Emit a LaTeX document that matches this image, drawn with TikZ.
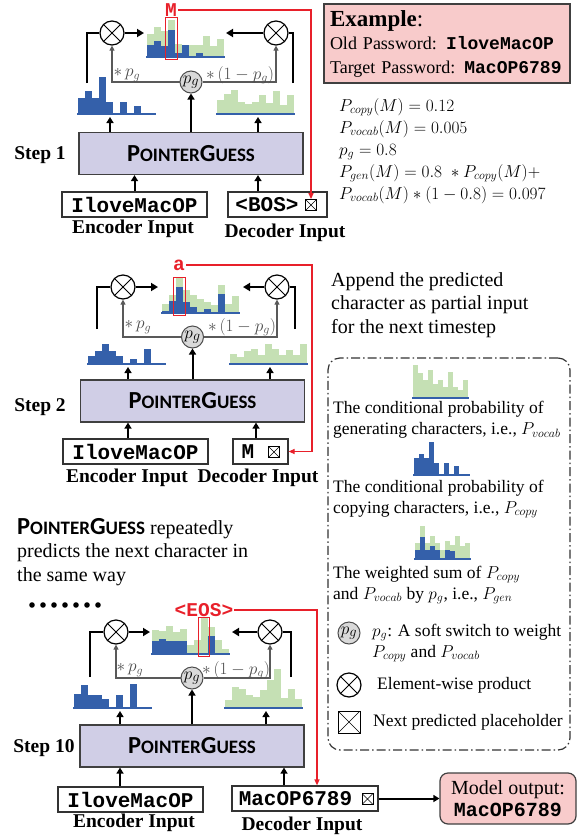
\documentclass[tikz,border=0pt]{standalone}
\usepackage{fontspec}
\setmainfont{Liberation Serif}
\setmonofont{Liberation Mono}
\newfontfamily\pgfont{Carlito}
\usetikzlibrary{arrows.meta,positioning}

\definecolor{copyblue}{RGB}{52,96,170}
\definecolor{vocabgreen}{RGB}{197,224,180}
\definecolor{pglav}{RGB}{208,206,230}
\definecolor{expink}{RGB}{248,203,203}
\definecolor{predred}{RGB}{232,32,42}

\newcommand{\PG}{{\pgfont\bfseries\fontsize{24.5}{26}\selectfont P\fontsize{19}{26}\selectfont OINTER\fontsize{24.5}{26}\selectfont G\fontsize{19}{26}\selectfont UESS}}

% histogram: left x, baseline y, bar width, green/blue heights
\newcommand{\bars}[4]{%
  \foreach \hv/\hc [count=\i from 0] in {#4} {
    \fill[vocabgreen] (#1+\i*#3,#2) rectangle ++(#3,-\hv);
    \fill[copyblue] (#1+\i*#3,#2) rectangle ++(#3,-\hc);
  }
  \draw[copyblue, line width=1.6pt] (#1-1,#2+0.8) -- ++(11*#3+2,0);
}

\tikzset{
  pgbox/.style={draw=black!75, fill=pglav, line width=1.2pt, minimum width=224pt, minimum height=42pt, inner sep=0pt},
  inbox/.style={draw=black!80, line width=1.2pt, minimum height=25pt, inner sep=0pt, font=\fontsize{21}{21}\selectfont\ttfamily\bfseries},
  prodnode/.style={circle, draw, line width=1.2pt, minimum size=24pt, inner sep=0pt, fill=white,
    path picture={\draw[line width=1pt] (path picture bounding box.south west) -- (path picture bounding box.north east)
      (path picture bounding box.north west) -- (path picture bounding box.south east);}},
  gatenode/.style={circle, draw=black!70, fill=black!15, line width=1pt, minimum size=22pt, inner sep=0pt, font=\fontsize{19}{19}\selectfont},
  holdnode/.style={draw, line width=0.8pt, minimum size=11pt, inner sep=0pt,
    path picture={\draw[line width=0.6pt] (path picture bounding box.south west) -- (path picture bounding box.north east)
      (path picture bounding box.north west) -- (path picture bounding box.south east);}},
  steplab/.style={font=\fontsize{19.5}{20}\selectfont\bfseries},
  inlab/.style={font=\fontsize{19.5}{20}\selectfont\bfseries},
  wlab/.style={text=black!70, font=\fontsize{16.5}{16}\selectfont, inner sep=0pt},
  predlab/.style={text=predred, font=\fontsize{19.5}{20}\selectfont\ttfamily\bfseries, inner sep=1pt},
  pickbox/.style={draw=predred, line width=1pt, inner sep=0pt},
  notetext/.style={align=left, inner sep=0pt, anchor=west, font=\fontsize{20}{23.5}\selectfont},
  keytext/.style={align=left, inner sep=0pt, anchor=west, font=\fontsize{17.5}{21}\selectfont},
  keybox/.style={draw=black!80, line width=1.2pt, rounded corners=12pt, dash pattern=on 9pt off 3pt on 1.5pt off 3pt,
    minimum width=242pt, minimum height=392pt},
  exbox/.style={draw=black!75, fill=expink, line width=1.2pt, text width=234pt, inner sep=6pt, minimum height=73pt,
    align=left, font=\fontsize{18}{23.5}\selectfont},
  outbox/.style={draw=black!75, fill=expink, line width=1.2pt, rounded corners=8pt, minimum width=136pt, minimum height=51pt,
    align=center, font=\fontsize{20}{22}\selectfont},
  feedback/.style={draw=predred, line width=1.2pt, -{Triangle[length=6pt,width=5pt]}},
  flowarrow/.style={line width=2.6pt, -{Triangle[length=7pt,width=8pt]}},
  liftarrow/.style={line width=2pt, -{Triangle[length=6pt,width=7pt]}},
  sideline/.style={line width=2.6pt},
  mixarrow/.style={draw=black!65, line width=1.1pt, -{Triangle[length=5pt,width=5pt]}},
}

\begin{document}
\begin{tikzpicture}[x=1pt,y=-1pt]
	\useasboundingbox (0,0) rectangle (577,836);

	% step 1
	\draw (191,153.5) node [pgbox] (box1) {\PG};
	\draw (40,155) node [steplab] (step1) {Step 1};
	\draw (134.5,204.5) node [inbox, minimum width=145pt] (enc1) {IloveMacOP};
	\draw (277.5,204.5) node [inbox, minimum width=99pt] (dec1) {<BOS>\rule{21pt}{0pt}};
	\draw (311,205) node [holdnode] (ph1) {};
	\draw (133,229) node [inlab] (enclab1) {Encoder Input};
	\draw (285,233) node [inlab] (declab1) {Decoder Input};
	\draw (112,33) node [prodnode] (ml1) {};
	\draw (276,33) node [prodnode] (mr1) {};
	\draw (191,82) node [gatenode] (s1) {$p_g$};
	\bars{78}{113}{7}{0/15,0/22,0/15,0/36,0/11,0/0,0/11,0/0,0/7,0/0,0/0}
	\bars{217}{113}{7}{13/0,19/0,23/0,11/0,9/0,11/0,18/0,10/0,22/0,8/0,18/0}
	\bars{147}{56}{7}{22/11,29/15,25/10,36/26,12/3,11/11,11/0,11/3,20/0,10/0,17/0}
	\draw (171,10) node [predlab] (out1) {M};
	\draw (171,38) node [pickbox, minimum width=12pt, minimum height=42pt] (sel1) {};
	\coordinate (cpyT1) at (87,83);
	\coordinate (vocT1) at (293,83);
	\coordinate (mixL1) at (144,33);
	\coordinate (mixR1) at (226,33);
	\coordinate (cpyB1) at (110,117);
	\coordinate (vocB1) at (258,117);
	\coordinate (din1) at ([xshift=-19.5pt]dec1.north);
	\draw
		(ml1) edge [flowarrow] (mixL1)
		(mr1) edge [flowarrow] (mixR1)
		(box1.north -| cpyB1) edge [liftarrow] (cpyB1)
		(box1.north -| vocB1) edge [liftarrow] (vocB1)
		(box1) edge [liftarrow] (s1)
		(enc1) edge [liftarrow] (enc1 |- box1.south)
		(din1) edge [liftarrow] (din1 |- box1.south)
	;
	\draw[sideline] (cpyT1) |- (ml1);
	\draw[sideline] (vocT1) |- (mr1);
	\draw[mixarrow] (s1) -| (ml1);
	\draw[mixarrow] (s1) -| (mr1);
	\draw (127,75) node [wlab] (wl1) {$*\,p_g$};
	\draw (240,75) node [wlab] (wr1) {$*\,(1-p_g)$};
	\draw[feedback] (out1) -| (ph1);

	% step 2
	\draw (192.5,401) node [pgbox] (box2) {\PG};
	\draw (40,407) node [steplab] (step2) {Step 2};
	\draw (135.5,451.5) node [inbox, minimum width=145pt] (enc2) {IloveMacOP};
	\draw (260.5,451.5) node [inbox, minimum width=55pt] (dec2) {M\rule{25pt}{0pt}};
	\draw (274,452) node [holdnode] (ph2) {};
	\draw (127,478) node [inlab] (enclab2) {Encoder Input};
	\draw (258,478) node [inlab] (declab2) {Decoder Input};
	\draw (123,287) node [prodnode] (ml2) {};
	\draw (277,287) node [prodnode] (mr2) {};
	\draw (192.5,337) node [gatenode] (s2) {$p_g$};
	\bars{88}{363}{7}{0/7,0/12,0/19,0/12,0/7,0/0,0/4,0/0,0/14,0/0,0/0}
	\bars{230}{363}{7}{9/0,6/0,12/0,14/0,8/0,19/0,14/0,8/0,13/0,8/0,19/0}
	\bars{162}{312}{7}{8/1,17/11,34/25,22/10,17/5,13/0,10/3,7/0,27/18,8/0,16/0}
	\draw (179,265) node [predlab] (out2) {a};
	\draw (179.5,296) node [pickbox, minimum width=12pt, minimum height=38pt] (sel2) {};
	\coordinate (cpyT2) at (97,329);
	\coordinate (vocT2) at (295,329);
	\coordinate (mixL2) at (158,287);
	\coordinate (mixR2) at (243,287);
	\coordinate (cpyB2) at (128,367);
	\coordinate (vocB2) at (270,367);
	\coordinate (ein2) at ([xshift=-7.5pt]enc2.north);
	\coordinate (din2) at ([xshift=-4.5pt]dec2.north);
	\coordinate (turn2) at (312,451.5);
	\draw
		(ml2) edge [flowarrow] (mixL2)
		(mr2) edge [flowarrow] (mixR2)
		(box2.north -| cpyB2) edge [liftarrow] (cpyB2)
		(box2.north -| vocB2) edge [liftarrow] (vocB2)
		(box2) edge [liftarrow] (s2)
		(ein2) edge [liftarrow] (ein2 |- box2.south)
		(din2) edge [liftarrow] (din2 |- box2.south)
	;
	\draw[sideline] (cpyT2) |- (ml2);
	\draw[sideline] (vocT2) |- (mr2);
	\draw[mixarrow] (s2) -| (ml2);
	\draw[mixarrow] (s2) -| (mr2);
	\draw (138,327) node [wlab] (wl2) {$*\,p_g$};
	\draw (242,327) node [wlab] (wr2) {$*\,(1-p_g)$};
	\draw[feedback] (out2) -| (turn2) -- (dec2.east);

	% step 10
	\draw (192,746) node [pgbox] (box10) {\PG};
	\draw (44,748) node [steplab] (step10) {Step 10};
	\draw (130.5,799.5) node [inbox, minimum width=145pt] (enc10) {IloveMacOP};
	\draw (305,798.5) node [inbox, minimum width=146pt] (dec10) {MacOP6789\rule{19pt}{0pt}};
	\draw (367.5,799) node [holdnode] (ph10) {};
	\draw (508,798.5) node [outbox] (res) {Model output:\\\textbf{\texttt{MacOP6789}}};
	\draw (134,823) node [inlab] (enclab10) {Encoder Input};
	\draw (302,826) node [inlab] (declab10) {Decoder Input};
	\draw (116,632) node [prodnode] (ml10) {};
	\draw (270,632) node [prodnode] (mr10) {};
	\draw (192,678) node [gatenode] (s10) {$p_g$};
	\bars{74}{707}{7}{0/13,0/22,0/12,0/12,0/8,0/0,0/12,0/0,0/23,0/0,0/0}
	\bars{225}{707}{7}{7/0,20/0,18/0,12/0,10/0,17/0,27/0,38/0,9/0,18/0,8/0}
	\bars{152}{653}{7}{23/12,22/14,27/12,21/12,24/12,8/0,13/0,35/0,26/17,13/0,4/0}
	\draw (204,610) node [predlab] (out10) {<EOS>};
	\draw (203.5,636.5) node [pickbox, minimum width=11pt, minimum height=39pt] (sel10) {};
	\foreach \k in {0,...,6} \fill (32+\k*11,605) circle (2.8pt);
	\coordinate (cpyT10) at (90,677);
	\coordinate (vocT10) at (291,677);
	\coordinate (mixL10) at (150,632);
	\coordinate (mixR10) at (232,632);
	\coordinate (cpyB10) at (120,711);
	\coordinate (vocB10) at (266,711);
	\coordinate (ein10) at ([xshift=-10.5pt]enc10.north);
	\coordinate (din10) at ([xshift=-21pt]dec10.north);
	\coordinate (fin10) at ([xshift=12pt]dec10.north);
	\draw
		(ml10) edge [flowarrow] (mixL10)
		(mr10) edge [flowarrow] (mixR10)
		(box10.north -| cpyB10) edge [liftarrow] (cpyB10)
		(box10.north -| vocB10) edge [liftarrow] (vocB10)
		(box10) edge [liftarrow] (s10)
		(ein10) edge [liftarrow] (ein10 |- box10.south)
		(din10) edge [liftarrow] (din10 |- box10.south)
		(dec10) edge [liftarrow] (res)
	;
	\draw[sideline] (cpyT10) |- (ml10);
	\draw[sideline] (vocT10) |- (mr10);
	\draw[mixarrow] (s10) -| (ml10);
	\draw[mixarrow] (s10) -| (mr10);
	\draw (130,670) node [wlab] (wl10) {$*\,p_g$};
	\draw (236,670) node [wlab] (wr10) {$*\,(1-p_g)$};
	\draw[feedback] (out10) -| (fin10);

	% example and notes
	\draw (447,43.5) node [exbox] (ex) {{\fontsize{23}{23}\selectfont\textbf{Example}:}\\Old Password: \textbf{\texttt{IloveMacOP}}\\Target Password: \textbf{\texttt{MacOP6789}}};
	\draw (339,151) node [keytext, font=\fontsize{18}{22}\selectfont] (calc) {$P_{copy}(M)=0.12$\\$P_{vocab}(M)=0.005$\\$p_g=0.8$\\$P_{gen}(M)=0.8\;*P_{copy}(M)+$\\$P_{vocab}(M)*(1-0.8)=0.097$};
	\draw (331,305) node [notetext] (append) {Append the predicted\\character as partial input\\for the next timestep};
	\draw (17,552) node [notetext] (repeat) {\PG{} repeatedly\\predicts the next character in\\the same way};

	% legend
	\draw (449,554) node [keybox] (key) {};
	\bars{413}{397}{5}{32/0,24/0,17/0,27/0,13/0,17/0,10/0,25/0,10/0,7/0,17/0}
	\draw (333,420) node [keytext] (kv) {The conditional probability of\\generating characters, i.e., $P_{vocab}$};
	\bars{414}{474}{5}{0/16,0/20,0/16,0/32,0/11,0/0,0/11,0/0,0/8,0/0,0/0}
	\draw (333,499) node [keytext] (kc) {The conditional probability of\\copying characters, i.e., $P_{copy}$};
	\bars{415}{558}{5}{15/8,32/21,15/8,22/12,15/8,8/0,17/8,13/7,22/0,12/0,15/0}
	\draw (333,585) node [keytext] (kg) {The weighted sum of $P_{copy}$\\and $P_{vocab}$ by $p_g$, i.e., $P_{gen}$};
	\draw (349,633) node [gatenode] (ks) {$p_g$};
	\draw (372,643) node [keytext] (ksl) {$p_g$: A soft switch to weight\\$P_{copy}$ and $P_{vocab}$};
	\draw (349,685) node [prodnode] (kp) {};
	\draw (377,685) node [keytext] (kpl) {Element-wise product};
	\draw (349,722) node [holdnode, minimum size=22pt] (kh) {};
	\draw (373,722) node [keytext] (khl) {Next predicted placeholder};
\end{tikzpicture}
\end{document}
